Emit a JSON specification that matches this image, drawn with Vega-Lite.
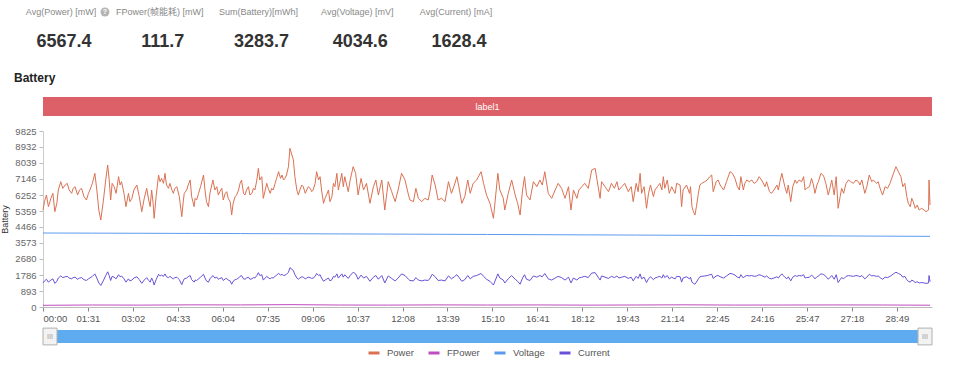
{
  "$schema": "https://vega.github.io/schema/vega-lite/v6.json",
  "padding": {"left": 0, "top": 0, "right": 0, "bottom": 0},
  "background": "white",
  "spacing": 3,
  "config": {
    "view": {"stroke": null},
    "font": "Liberation Sans, Noto Sans CJK SC, sans-serif"
  },
  "datasets": {
    "pc": [
      {"t":0,"Power":5414,"Current":1342},{"t":3,"Power":5880,"Current":1457},{"t":7,"Power":6252,"Current":1549},{"t":11,"Power":5600,"Current":1388},{"t":16,"Power":6066,"Current":1503},{"t":20,"Power":6345,"Current":1572},{"t":24,"Power":5321,"Current":1319},{"t":28,"Power":5787,"Current":1434},{"t":31,"Power":6531,"Current":1618},{"t":36,"Power":6996,"Current":1734},{"t":40,"Power":6624,"Current":1641},{"t":45,"Power":6810,"Current":1688},{"t":49,"Power":6903,"Current":1711},{"t":53,"Power":6531,"Current":1618},{"t":58,"Power":6345,"Current":1572},{"t":61,"Power":6624,"Current":1641},{"t":65,"Power":6717,"Current":1665},{"t":70,"Power":6252,"Current":1549},{"t":74,"Power":6531,"Current":1618},{"t":78,"Power":6624,"Current":1641},{"t":83,"Power":6159,"Current":1526},{"t":88,"Power":5973,"Current":1480},{"t":92,"Power":6345,"Current":1572},{"t":95,"Power":6531,"Current":1618},{"t":100,"Power":6903,"Current":1711},{"t":105,"Power":7461,"Current":1849},{"t":109,"Power":6531,"Current":1618},{"t":113,"Power":5414,"Current":1342},{"t":117,"Power":4856,"Current":1203},{"t":122,"Power":5880,"Current":1457},{"t":127,"Power":7089,"Current":1757},{"t":131,"Power":7926,"Current":1964},{"t":134,"Power":7089,"Current":1757},{"t":137,"Power":5973,"Current":1480},{"t":140,"Power":6903,"Current":1711},{"t":144,"Power":6717,"Current":1665},{"t":148,"Power":6345,"Current":1572},{"t":153,"Power":7275,"Current":1803},{"t":156,"Power":6810,"Current":1688},{"t":159,"Power":6996,"Current":1734},{"t":164,"Power":6345,"Current":1572},{"t":168,"Power":5600,"Current":1388},{"t":173,"Power":6345,"Current":1572},{"t":176,"Power":5880,"Current":1457},{"t":180,"Power":6066,"Current":1503},{"t":184,"Power":6531,"Current":1618},{"t":190,"Power":6810,"Current":1688},{"t":195,"Power":6159,"Current":1526},{"t":200,"Power":5321,"Current":1319},{"t":205,"Power":6066,"Current":1503},{"t":210,"Power":6624,"Current":1641},{"t":214,"Power":5973,"Current":1480},{"t":217,"Power":5600,"Current":1388},{"t":220,"Power":6531,"Current":1618},{"t":223,"Power":5787,"Current":1434},{"t":225,"Power":4949,"Current":1226},{"t":229,"Power":6159,"Current":1526},{"t":234,"Power":7368,"Current":1826},{"t":237,"Power":6996,"Current":1734},{"t":240,"Power":7182,"Current":1780},{"t":244,"Power":6903,"Current":1711},{"t":247,"Power":7461,"Current":1849},{"t":250,"Power":6810,"Current":1688},{"t":254,"Power":6624,"Current":1641},{"t":257,"Power":6903,"Current":1711},{"t":261,"Power":6531,"Current":1618},{"t":264,"Power":6345,"Current":1572},{"t":267,"Power":6624,"Current":1641},{"t":271,"Power":6717,"Current":1665},{"t":276,"Power":6159,"Current":1526},{"t":281,"Power":5042,"Current":1249},{"t":284,"Power":5880,"Current":1457},{"t":286,"Power":6345,"Current":1572},{"t":291,"Power":6531,"Current":1618},{"t":294,"Power":6810,"Current":1688},{"t":298,"Power":7089,"Current":1757},{"t":301,"Power":6159,"Current":1526},{"t":306,"Power":5600,"Current":1388},{"t":308,"Power":6066,"Current":1503},{"t":311,"Power":5973,"Current":1480},{"t":315,"Power":6345,"Current":1572},{"t":319,"Power":6717,"Current":1665},{"t":325,"Power":7368,"Current":1826},{"t":328,"Power":6531,"Current":1618},{"t":331,"Power":5880,"Current":1457},{"t":335,"Power":5600,"Current":1388},{"t":338,"Power":6345,"Current":1572},{"t":344,"Power":7089,"Current":1757},{"t":348,"Power":6531,"Current":1618},{"t":352,"Power":6717,"Current":1665},{"t":355,"Power":6252,"Current":1549},{"t":358,"Power":6438,"Current":1595},{"t":362,"Power":6624,"Current":1641},{"t":365,"Power":5973,"Current":1480},{"t":369,"Power":6345,"Current":1572},{"t":372,"Power":6438,"Current":1595},{"t":375,"Power":6066,"Current":1503},{"t":379,"Power":5880,"Current":1457},{"t":382,"Power":5135,"Current":1272},{"t":385,"Power":5787,"Current":1434},{"t":389,"Power":6159,"Current":1526},{"t":392,"Power":6252,"Current":1549},{"t":396,"Power":6531,"Current":1618},{"t":399,"Power":6903,"Current":1711},{"t":402,"Power":7089,"Current":1757},{"t":406,"Power":6345,"Current":1572},{"t":409,"Power":6252,"Current":1549},{"t":412,"Power":6531,"Current":1618},{"t":416,"Power":6717,"Current":1665},{"t":419,"Power":6252,"Current":1549},{"t":423,"Power":6345,"Current":1572},{"t":426,"Power":6624,"Current":1641},{"t":429,"Power":6531,"Current":1618},{"t":433,"Power":7089,"Current":1757},{"t":436,"Power":7740,"Current":1918},{"t":439,"Power":7089,"Current":1757},{"t":443,"Power":7275,"Current":1803},{"t":446,"Power":6066,"Current":1503},{"t":450,"Power":6531,"Current":1618},{"t":453,"Power":6903,"Current":1711},{"t":456,"Power":6624,"Current":1641},{"t":460,"Power":6345,"Current":1572},{"t":463,"Power":6624,"Current":1641},{"t":466,"Power":6531,"Current":1618},{"t":470,"Power":6903,"Current":1711},{"t":473,"Power":7182,"Current":1780},{"t":477,"Power":7554,"Current":1872},{"t":481,"Power":7182,"Current":1780},{"t":484,"Power":7368,"Current":1826},{"t":487,"Power":7089,"Current":1757},{"t":490,"Power":7182,"Current":1780},{"t":493,"Power":7368,"Current":1826},{"t":497,"Power":7833,"Current":1941},{"t":500,"Power":8857,"Current":2195},{"t":504,"Power":8485,"Current":2103},{"t":507,"Power":8206,"Current":2033},{"t":510,"Power":7275,"Current":1803},{"t":514,"Power":6531,"Current":1618},{"t":517,"Power":6252,"Current":1549},{"t":520,"Power":6531,"Current":1618},{"t":524,"Power":6810,"Current":1688},{"t":527,"Power":6717,"Current":1665},{"t":531,"Power":6345,"Current":1572},{"t":534,"Power":6531,"Current":1618},{"t":537,"Power":6717,"Current":1665},{"t":541,"Power":6624,"Current":1641},{"t":544,"Power":6438,"Current":1595},{"t":547,"Power":6531,"Current":1618},{"t":551,"Power":6903,"Current":1711},{"t":554,"Power":7554,"Current":1872},{"t":558,"Power":7089,"Current":1757},{"t":561,"Power":7275,"Current":1803},{"t":564,"Power":6531,"Current":1618},{"t":568,"Power":5787,"Current":1434},{"t":571,"Power":6066,"Current":1503},{"t":574,"Power":6252,"Current":1549},{"t":578,"Power":6531,"Current":1618},{"t":581,"Power":5880,"Current":1457},{"t":585,"Power":6159,"Current":1526},{"t":588,"Power":6903,"Current":1711},{"t":591,"Power":6717,"Current":1665},{"t":595,"Power":7461,"Current":1849},{"t":598,"Power":6531,"Current":1618},
      {"t":605,"Power":7461,"Current":1849},{"t":608,"Power":6717,"Current":1665},{"t":611,"Power":7275,"Current":1803},{"t":618,"Power":6438,"Current":1595},{"t":622,"Power":7089,"Current":1757},{"t":628,"Power":7833,"Current":1941},{"t":633,"Power":7461,"Current":1849},{"t":638,"Power":6252,"Current":1549},{"t":644,"Power":7182,"Current":1780},{"t":649,"Power":6531,"Current":1618},{"t":655,"Power":6903,"Current":1711},{"t":662,"Power":5787,"Current":1434},{"t":669,"Power":6717,"Current":1665},{"t":674,"Power":7089,"Current":1757},{"t":679,"Power":6252,"Current":1549},{"t":686,"Power":7089,"Current":1757},{"t":692,"Power":5414,"Current":1342},{"t":699,"Power":6996,"Current":1734},{"t":706,"Power":6438,"Current":1595},{"t":713,"Power":5880,"Current":1457},{"t":719,"Power":6531,"Current":1618},{"t":726,"Power":7461,"Current":1849},{"t":733,"Power":7089,"Current":1757},{"t":740,"Power":6252,"Current":1549},{"t":743,"Power":5973,"Current":1480},{"t":750,"Power":5880,"Current":1457},{"t":755,"Power":6624,"Current":1641},{"t":760,"Power":6066,"Current":1503},{"t":767,"Power":5880,"Current":1457},{"t":773,"Power":6066,"Current":1503},{"t":780,"Power":5973,"Current":1480},{"t":784,"Power":6531,"Current":1618},{"t":788,"Power":7368,"Current":1826},{"t":794,"Power":6810,"Current":1688},{"t":800,"Power":5973,"Current":1480},{"t":807,"Power":6066,"Current":1503},{"t":814,"Power":5880,"Current":1457},{"t":821,"Power":6996,"Current":1734},{"t":827,"Power":6345,"Current":1572},{"t":833,"Power":6810,"Current":1688},{"t":838,"Power":7275,"Current":1803},{"t":842,"Power":6717,"Current":1665},{"t":848,"Power":5787,"Current":1434},{"t":854,"Power":6159,"Current":1526},{"t":860,"Power":7089,"Current":1757},{"t":865,"Power":6345,"Current":1572},{"t":871,"Power":6903,"Current":1711},{"t":878,"Power":7089,"Current":1757},{"t":887,"Power":7554,"Current":1872},{"t":892,"Power":6903,"Current":1711},{"t":898,"Power":6252,"Current":1549},{"t":905,"Power":5787,"Current":1434},{"t":912,"Power":4949,"Current":1226},{"t":921,"Power":7461,"Current":1849},{"t":925,"Power":6531,"Current":1618},{"t":932,"Power":6066,"Current":1503},{"t":935,"Power":5414,"Current":1342},{"t":942,"Power":6345,"Current":1572},{"t":949,"Power":7089,"Current":1757},{"t":956,"Power":6252,"Current":1549},{"t":961,"Power":5787,"Current":1434},{"t":966,"Power":5135,"Current":1272},{"t":971,"Power":6531,"Current":1618},{"t":975,"Power":7275,"Current":1803},{"t":979,"Power":6252,"Current":1549},{"t":986,"Power":5973,"Current":1480},{"t":993,"Power":6996,"Current":1734},{"t":1000,"Power":6717,"Current":1665},{"t":1006,"Power":7089,"Current":1757},{"t":1011,"Power":6810,"Current":1688},{"t":1016,"Power":7554,"Current":1872},{"t":1023,"Power":6345,"Current":1572},{"t":1030,"Power":6066,"Current":1503},{"t":1037,"Power":6531,"Current":1618},{"t":1043,"Power":6903,"Current":1711},{"t":1050,"Power":6624,"Current":1641},{"t":1057,"Power":6066,"Current":1503},{"t":1064,"Power":6717,"Current":1665},{"t":1069,"Power":5414,"Current":1342},{"t":1074,"Power":6531,"Current":1618},{"t":1081,"Power":6066,"Current":1503},{"t":1085,"Power":6531,"Current":1618},{"t":1091,"Power":6717,"Current":1665},{"t":1097,"Power":6903,"Current":1711},{"t":1104,"Power":6624,"Current":1641},{"t":1111,"Power":7647,"Current":1895},{"t":1118,"Power":7740,"Current":1918},{"t":1124,"Power":6717,"Current":1665},{"t":1128,"Power":6066,"Current":1503},{"t":1131,"Power":6996,"Current":1734},{"t":1138,"Power":6717,"Current":1665},{"t":1145,"Power":6438,"Current":1595},{"t":1151,"Power":6903,"Current":1711},{"t":1157,"Power":6624,"Current":1641},{"t":1162,"Power":6996,"Current":1734},{"t":1166,"Power":6531,"Current":1618},{"t":1172,"Power":6717,"Current":1665},{"t":1178,"Power":6903,"Current":1711},{"t":1185,"Power":6438,"Current":1595},{"t":1191,"Power":6717,"Current":1665},{"t":1195,"Power":5880,"Current":1457},
      {"t":1201,"Power":6903,"Current":1711},{"t":1205,"Power":6438,"Current":1595},{"t":1209,"Power":7461,"Current":1849},{"t":1212,"Power":6345,"Current":1572},{"t":1217,"Power":6717,"Current":1665},{"t":1222,"Power":5508,"Current":1365},{"t":1226,"Power":6345,"Current":1572},{"t":1230,"Power":6810,"Current":1688},{"t":1236,"Power":6159,"Current":1526},{"t":1239,"Power":6531,"Current":1618},{"t":1244,"Power":6717,"Current":1665},{"t":1249,"Power":6903,"Current":1711},{"t":1253,"Power":6531,"Current":1618},{"t":1256,"Power":7275,"Current":1803},{"t":1259,"Power":6624,"Current":1641},{"t":1264,"Power":7089,"Current":1757},{"t":1268,"Power":6345,"Current":1572},{"t":1273,"Power":6717,"Current":1665},{"t":1276,"Power":6531,"Current":1618},{"t":1280,"Power":6345,"Current":1572},{"t":1283,"Power":6903,"Current":1711},{"t":1290,"Power":6810,"Current":1688},{"t":1293,"Power":5600,"Current":1388},{"t":1296,"Power":6531,"Current":1618},{"t":1303,"Power":6810,"Current":1688},{"t":1309,"Power":6345,"Current":1572},{"t":1311,"Power":6717,"Current":1665},{"t":1314,"Power":5600,"Current":1388},{"t":1317,"Power":5321,"Current":1319},{"t":1320,"Power":5135,"Current":1272},{"t":1323,"Power":5600,"Current":1388},{"t":1327,"Power":6345,"Current":1572},{"t":1330,"Power":6810,"Current":1688},{"t":1334,"Power":6903,"Current":1711},{"t":1340,"Power":6996,"Current":1734},{"t":1345,"Power":7089,"Current":1757},{"t":1350,"Power":7275,"Current":1803},{"t":1354,"Power":7368,"Current":1826},{"t":1357,"Power":6438,"Current":1595},{"t":1363,"Power":6996,"Current":1734},{"t":1367,"Power":7089,"Current":1757},{"t":1371,"Power":6810,"Current":1688},{"t":1378,"Power":6531,"Current":1618},{"t":1384,"Power":6996,"Current":1734},{"t":1391,"Power":7554,"Current":1872},{"t":1396,"Power":7461,"Current":1849},{"t":1401,"Power":7182,"Current":1780},{"t":1406,"Power":6717,"Current":1665},{"t":1410,"Power":6531,"Current":1618},{"t":1413,"Power":7275,"Current":1803},{"t":1418,"Power":6531,"Current":1618},{"t":1421,"Power":6903,"Current":1711},{"t":1425,"Power":7089,"Current":1757},{"t":1430,"Power":6996,"Current":1734},{"t":1435,"Power":7089,"Current":1757},{"t":1440,"Power":6903,"Current":1711},{"t":1445,"Power":6996,"Current":1734},{"t":1450,"Power":7275,"Current":1803},{"t":1455,"Power":7089,"Current":1757},{"t":1462,"Power":6717,"Current":1665},{"t":1465,"Power":6996,"Current":1734},{"t":1471,"Power":6438,"Current":1595},{"t":1475,"Power":6345,"Current":1572},{"t":1480,"Power":6531,"Current":1618},{"t":1486,"Power":6810,"Current":1688},{"t":1489,"Power":6531,"Current":1618},{"t":1492,"Power":6996,"Current":1734},{"t":1496,"Power":7461,"Current":1849},{"t":1499,"Power":7089,"Current":1757},{"t":1502,"Power":6717,"Current":1665},{"t":1506,"Power":6345,"Current":1572},{"t":1509,"Power":6810,"Current":1688},{"t":1514,"Power":5880,"Current":1457},{"t":1518,"Power":6717,"Current":1665},{"t":1523,"Power":7089,"Current":1757},{"t":1526,"Power":6903,"Current":1711},{"t":1531,"Power":7089,"Current":1757},{"t":1536,"Power":6996,"Current":1734},{"t":1540,"Power":7275,"Current":1803},{"t":1543,"Power":6531,"Current":1618},{"t":1546,"Power":6624,"Current":1641},{"t":1552,"Power":6717,"Current":1665},{"t":1556,"Power":7182,"Current":1780},{"t":1560,"Power":6810,"Current":1688},{"t":1563,"Power":6345,"Current":1572},{"t":1567,"Power":6810,"Current":1688},{"t":1570,"Power":6996,"Current":1734},{"t":1575,"Power":7461,"Current":1849},{"t":1579,"Power":7368,"Current":1826},{"t":1581,"Power":7275,"Current":1803},{"t":1585,"Power":6903,"Current":1711},{"t":1590,"Power":6252,"Current":1549},{"t":1594,"Power":6717,"Current":1665},{"t":1597,"Power":7089,"Current":1757},{"t":1602,"Power":6252,"Current":1549},{"t":1606,"Power":7275,"Current":1803},{"t":1610,"Power":5508,"Current":1365},{"t":1614,"Power":6159,"Current":1526},{"t":1617,"Power":6624,"Current":1641},{"t":1621,"Power":6345,"Current":1572},{"t":1626,"Power":6903,"Current":1711},{"t":1631,"Power":7089,"Current":1757},{"t":1635,"Power":6996,"Current":1734},{"t":1641,"Power":6903,"Current":1711},{"t":1646,"Power":7089,"Current":1757},{"t":1651,"Power":6996,"Current":1734},{"t":1654,"Power":6810,"Current":1688},{"t":1658,"Power":7089,"Current":1757},{"t":1664,"Power":6345,"Current":1572},{"t":1668,"Power":6717,"Current":1665},{"t":1673,"Power":7368,"Current":1826},{"t":1678,"Power":6996,"Current":1734},{"t":1681,"Power":7089,"Current":1757},{"t":1688,"Power":6903,"Current":1711},{"t":1691,"Power":6996,"Current":1734},{"t":1696,"Power":6531,"Current":1618},{"t":1700,"Power":6252,"Current":1549},{"t":1705,"Power":6717,"Current":1665},{"t":1710,"Power":6624,"Current":1641},{"t":1715,"Power":6903,"Current":1711},{"t":1722,"Power":7461,"Current":1849},{"t":1727,"Power":7833,"Current":1941},{"t":1732,"Power":7554,"Current":1872},{"t":1737,"Power":7275,"Current":1803},{"t":1741,"Power":6717,"Current":1665},{"t":1745,"Power":6903,"Current":1711},{"t":1749,"Power":6159,"Current":1526},{"t":1752,"Power":5787,"Current":1434},{"t":1756,"Power":5600,"Current":1388},{"t":1759,"Power":6066,"Current":1503},{"t":1762,"Power":5880,"Current":1457},{"t":1766,"Power":5508,"Current":1365},{"t":1770,"Power":5694,"Current":1411},{"t":1774,"Power":5414,"Current":1342},{"t":1779,"Power":5508,"Current":1365},{"t":1784,"Power":5414,"Current":1342},{"t":1788,"Power":5321,"Current":1319},{"t":1793,"Power":5414,"Current":1342},{"t":1794,"Power":7089,"Current":1757},{"t":1796,"Power":5694,"Current":1411}
    ],
    "vf": [
      {"t":0,"Voltage":4130,"FPower":95},{"t":100,"Voltage":4124,"FPower":112},{"t":200,"Voltage":4116,"FPower":105},{"t":300,"Voltage":4108,"FPower":121},{"t":400,"Voltage":4099,"FPower":116},{"t":500,"Voltage":4090,"FPower":132},{"t":600,"Voltage":4080,"FPower":110},{"t":700,"Voltage":4070,"FPower":106},{"t":800,"Voltage":4060,"FPower":118},{"t":900,"Voltage":4049,"FPower":110},{"t":1000,"Voltage":4038,"FPower":116},{"t":1100,"Voltage":4027,"FPower":104},{"t":1200,"Voltage":4015,"FPower":112},{"t":1300,"Voltage":4003,"FPower":122},{"t":1400,"Voltage":3991,"FPower":108},{"t":1500,"Voltage":3979,"FPower":110},{"t":1600,"Voltage":3967,"FPower":116},{"t":1700,"Voltage":3955,"FPower":112},{"t":1796,"Voltage":3944,"FPower":100}
    ]
  },
  "vconcat": [
    {
      "width": 431,
      "height": 69,
      "data": {"values": [
        {"metric": "Avg(Power) [mW]", "value": "6567.4"},
        {"metric": "FPower(帧能耗) [mW]", "value": "111.7"},
        {"metric": "Sum(Battery)[mWh]", "value": "3283.7"},
        {"metric": "Avg(Voltage) [mV]", "value": "4034.6"},
        {"metric": "Avg(Current) [mA]", "value": "1628.4"}
      ]},
      "encoding": {
        "x": {"field": "metric", "type": "nominal", "sort": null, "scale": {"type": "point", "padding": 0.182}, "axis": null}
      },
      "layer": [
        {"mark": {"type": "text", "fontSize": 9, "color": "#888", "dy": -22.5}, "encoding": {"text": {"field": "metric"}}},
        {"mark": {"type": "text", "fontSize": 18, "fontWeight": "bold", "color": "#333", "dy": 7.5, "dx": 3}, "encoding": {"text": {"field": "value"}}},
        {"transform": [{"filter": "datum.metric === 'Avg(Power) [mW]'"}],
         "mark": {"type": "point", "shape": "circle", "size": 80, "filled": true, "color": "#b5b5b5", "opacity": 1},
         "encoding": {"xOffset": {"value": 44}, "yOffset": {"value": -22.5}}},
        {"transform": [{"filter": "datum.metric === 'Avg(Power) [mW]'"}], "mark": {"type": "text", "text": "?", "fontSize": 7, "fontWeight": "bold", "color": "white", "dx": 44, "dy": -22.5}}
      ]
    },
    {
      "width": 889,
      "height": 19,
      "title": {"text": "Battery", "anchor": "start", "dx": -29, "fontSize": 12, "fontWeight": "bold", "color": "#222", "offset": 12},
      "data": {"values": [{"label": "label1"}]},
      "layer": [
        {"mark": {"type": "rect", "color": "#dd5f67"}, "encoding": {}},
        {"mark": {"type": "text", "color": "white", "fontSize": 9}, "encoding": {"text": {"field": "label"}}}
      ]
    },
    {
      "width": 889,
      "height": 176,
      "title": {"text": " ", "fontSize": 1, "offset": 6},
      "encoding": {
        "x": {"field": "t", "type": "quantitative", "scale": {"domain": [0, 1800], "nice": false, "zero": false},
              "axis": {"values": [0,91,182,273,364,455,546,637,728,819,910,1001,1092,1183,1274,1365,1456,1547,1638,1729],
                       "labelExpr": "utcFormat(datum.value*1000, '%M:%S')", "labelFontSize": 9.5, "labelColor": "#555",
                       "tickSize": 4, "labelPadding": 2, "domainColor": "#bbb", "tickColor": "#888", "title": null, "grid": false}},
        "y": {"field": "value", "type": "quantitative", "scale": {"domain": [0, 9825], "nice": false},
              "axis": {"values": [0,893.18,1786.36,2679.55,3572.73,4465.91,5359.09,6252.27,7145.5,8038.64,8931.82,9825],
                       "format": ".0f", "labelFontSize": 9.5, "labelColor": "#666", "tickColor": "#bbb", "domainColor": "#ccc",
                       "tickSize": 4, "labelPadding": 3, "grid": false, "title": "Battery", "titleFontSize": 9,
                       "titleFontWeight": "normal", "titleColor": "#333", "titlePadding": 5}},
        "color": {"field": "series", "type": "nominal",
                  "scale": {"domain": ["Power", "FPower", "Voltage", "Current"], "range": ["#db7152", "#c04cc0", "#5b9bef", "#6a50d8"]},
                  "legend": {"orient": "none", "direction": "horizontal", "columns": 4, "legendX": 324, "legendY": 346,
                             "title": null, "symbolType": "stroke", "symbolStrokeWidth": 3, "symbolSize": 121,
                             "labelFontSize": 9.5, "labelColor": "#555", "labelOffset": 6, "columnPadding": 8}}
      },
      "layer": [
        {"data": {"name": "pc"}, "transform": [{"fold": ["Power", "Current"], "as": ["series", "value"]}],
         "mark": {"type": "line", "strokeWidth": 1}},
        {"data": {"name": "vf"}, "transform": [{"fold": ["FPower", "Voltage"], "as": ["series", "value"]}],
         "mark": {"type": "line", "strokeWidth": 1}}
      ]
    },
    {
      "width": 889,
      "height": 13,
      "data": {"values": [{"from": 0, "to": 1800}]},
      "encoding": {},
      "layer": [
        {"mark": {"type": "rect", "color": "#5eacef"},
         "encoding": {"x": {"field": "from", "type": "quantitative", "scale": {"domain": [0, 1800], "nice": false, "zero": false}, "axis": null}, "x2": {"field": "to"}}},
        {"mark": {"type": "point", "shape": "M0,-1.2L2,-1.2L2,1.2L0,1.2Z", "size": 196, "filled": true, "fill": "#f3f3f3", "stroke": "#b0b0b0", "strokeWidth": 1, "opacity": 1},
         "encoding": {"x": {"field": "from", "type": "quantitative"}}},
        {"mark": {"type": "point", "shape": "M-2,-1.2L0,-1.2L0,1.2L-2,1.2Z", "size": 196, "filled": true, "fill": "#f3f3f3", "stroke": "#b0b0b0", "strokeWidth": 1, "opacity": 1},
         "encoding": {"x": {"field": "to", "type": "quantitative"}}},
        {"mark": {"type": "text", "text": "III", "fontSize": 7, "color": "#999", "dx": 7}, "encoding": {"x": {"field": "from", "type": "quantitative"}}},
        {"mark": {"type": "text", "text": "III", "fontSize": 7, "color": "#999", "dx": -7}, "encoding": {"x": {"field": "to", "type": "quantitative"}}}
      ]
    }
  ]
}
